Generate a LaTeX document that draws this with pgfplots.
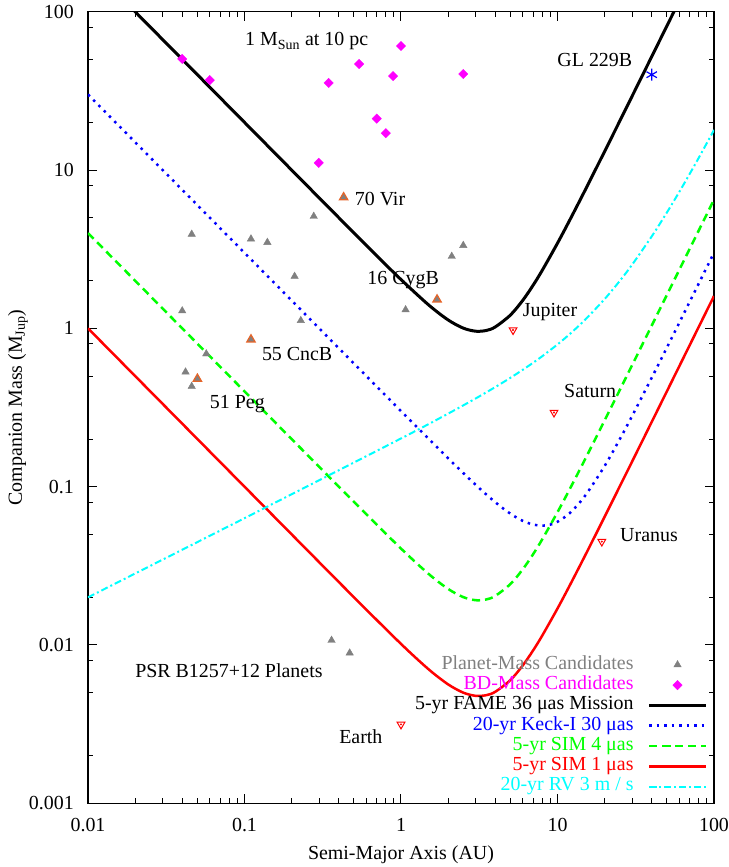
\documentclass[border=0pt]{standalone}
\usepackage{pgfplots}
\pgfplotsset{compat=1.18}
\usepackage{fontspec}
\setmainfont{Liberation Serif}
\definecolor{ptgray}{RGB}{128,128,128}
\definecolor{orng}{RGB}{230,100,40}
\definecolor{cyn}{RGB}{0,255,255}
\definecolor{grn}{RGB}{0,255,0}
\definecolor{blu}{RGB}{0,0,255}
\definecolor{rd}{RGB}{255,0,0}
\definecolor{mag}{RGB}{255,0,255}
\pgfplotsset{mylegend/.style={legend image code/.code={\draw[mark repeat=2,mark phase=2,##1] plot coordinates {(0bp,0bp) (28.5bp,0bp) (57bp,0bp)};}}}
\begin{document}
\begin{tikzpicture}[font=\fontsize{20}{24}\selectfont]
\useasboundingbox (-88bp,-63.7bp) rectangle (641bp,803.3bp);
\begin{axis}[
  scale only axis, width=626bp, height=791.6bp,
  at={(0,0)}, anchor=south west,
  xmode=log, ymode=log,
  xmin=0.01, xmax=100, ymin=0.001, ymax=100,
  xtick={0.01,0.1,1,10,100}, xticklabels={0.01,0.1,1,10,100},
  ytick={0.001,0.01,0.1,1,10,100}, yticklabels={0.001,0.01,0.1,1,10,100},
  minor xtick={0.02,0.03,0.04,0.05,0.06,0.07,0.08,0.09,0.2,0.3,0.4,0.5,0.6,0.7,0.8,0.9,2,3,4,5,6,7,8,9,20,30,40,50,60,70,80,90},
  minor ytick={0.002,0.005,0.008,0.02,0.05,0.08,0.2,0.5,0.8,2,5,8,20,50,80},
  tick align=inside, tick pos=both,
  major tick length=9bp, minor tick length=5bp,
  every tick/.style={black, line width=1bp},
  axis line style={line width=1.5bp},
  xticklabel style={anchor=center, yshift=-22bp, inner sep=0pt},
  yticklabel style={anchor=east, xshift=-14bp, inner sep=0pt},
  xlabel={Semi-Major Axis (AU)},
  ylabel={Companion Mass (M\textsubscript{Jup})},
  xlabel style={at={(axis description cs:0.5,-0.0653)}, anchor=center},
  ylabel style={at={(axis description cs:-0.1118,0.5)}, anchor=center},
  legend plot pos=right,
  legend cell align=right,
  legend style={at={(rel axis cs:0.99,0.008)}, anchor=south east, draw=none, fill=none, inner sep=0pt, row sep=0pt, column sep=14bp,
    nodes={inner sep=0pt, text height=14.5bp, text depth=5.8bp}},
  every axis plot/.append style={mylegend},
]
% Planet-mass candidates
\addplot[only marks, mark=triangle*, mark size=4.3bp, color=ptgray, mylegend] coordinates {
(0.046,3.93) (0.11,3.67) (0.14,3.49) (0.277,5.1) (0.209,2.13) (0.040,1.29)
(0.229,1.12) (0.057,0.69) (0.042,0.53) (0.046,0.43) (1.07,1.31) (2.11,2.85)
(2.50,3.34) (0.36,0.0107) (0.47,0.0089)};
\addlegendentry{\textcolor{ptgray}{Planet-Mass Candidates}}
% BD-mass candidates
\addplot[only marks, mark=square*, mark size=3.3bp, mark options={rotate=45}, color=mag, mylegend] coordinates {
(0.040,50.3) (0.060,37) (0.345,35.5) (0.54,46.7) (1.0,60.7) (0.89,39.2)
(0.70,21.1) (0.80,17.1) (0.298,11.1) (2.50,40.4)};
\addlegendentry{\textcolor{mag}{BD-Mass Candidates}}
% FAME
\addplot[black, line width=3bp, smooth] coordinates {
(0.019,105.26) (0.02,100) (0.03,66.67) (0.05,40.0) (0.1,20.0) (0.2,10.0) (0.3,6.670)
(0.5,4.008) (0.7,2.873) (1,2.0325) (1.5,1.407) (2,1.13) (2.5,1.003) (3,0.959)
(3.5,0.969) (4,1.02) (5,1.2125) (6,1.503) (7,1.878) (8,2.33) (10,3.45) (12,4.847)
(15,7.446) (20,13.1) (25,20.39) (30,29.32) (40,52.05) (50,81.29) (55,98.35) (60,117.03)};
\addlegendentry{5-yr FAME 36 μas Mission}
% Keck
\addplot[blu, line width=2.5bp, dash pattern=on 2.5bp off 5bp, smooth] coordinates {
(0.01,30) (0.02,15) (0.05,6) (0.1,3) (0.2,1.5) (0.5,0.6) (1,0.3003) (2,0.1512)
(3,0.1027) (4,0.0798) (5,0.0675) (6,0.0608) (7,0.0576) (8,0.0567) (9,0.0576)
(10,0.06) (12,0.0682) (15,0.0875) (20,0.135) (25,0.1995) (30,0.28) (40,0.4875)
(50,0.756) (60,1.085) (70,1.474) (80,1.924) (100,3.003)};
\addlegendentry{\textcolor{blu}{20-yr Keck-I 30 μas}}
% SIM 4
\addplot[grn, line width=2.5bp, dash pattern=on 8bp off 5bp, smooth] coordinates {
(0.01,4) (0.02,2) (0.05,0.8) (0.1,0.4) (0.2,0.2) (0.5,0.0802) (1,0.04065)
(1.5,0.02813) (2,0.0226) (2.5,0.02006) (3,0.01918) (3.5,0.01939) (4,0.0204)
(5,0.02425) (6,0.03007) (7,0.03756) (8,0.0466) (10,0.069) (12,0.0969) (15,0.1489)
(20,0.262) (30,0.5863) (40,1.041) (50,1.6258) (70,3.1856) (100,6.5004)};
\addlegendentry{\textcolor{grn}{5-yr SIM 4 μas}}
% SIM 1
\addplot[rd, line width=2.5bp, smooth] coordinates {
(0.01,1) (0.02,0.5) (0.05,0.2) (0.1,0.1) (0.2,0.05) (0.5,0.02004) (1,0.01016)
(1.5,0.007027) (2,0.00564) (2.5,0.005) (3,0.004773) (3.5,0.004817) (4,0.00506)
(5,0.006) (6,0.007427) (7,0.009269) (8,0.01149) (10,0.017) (12,0.02387)
(15,0.03667) (20,0.0645) (30,0.1443) (40,0.2563) (50,0.4002) (70,0.7841) (100,1.6001)};
\addlegendentry{\textcolor{rd}{5-yr SIM 1 μas}}
% RV
\addplot[cyn, line width=2bp, dash pattern=on 7bp off 3bp on 2bp off 3bp, smooth] coordinates {
(0.01,0.02) (0.1,0.0632) (1,0.2016) (2,0.2892) (3,0.3607) (4,0.4254) (5,0.4870)
(6,0.5472) (7,0.6071) (8,0.6675) (10,0.7916) (12,0.9218) (15,1.1325) (20,1.5306)
(25,1.994) (30,2.5267) (40,3.8096) (50,5.3903) (60,7.2738) (70,9.4664) (80,11.967) (100,17.904)};
\addlegendentry{\textcolor{cyn}{20-yr RV 3 m / s}}
% labelled planets
\addplot[forget plot, only marks, mark=triangle*, mark size=4.8bp, mark options={fill=ptgray, draw=orng, line width=1.2bp}] coordinates {
(0.43,6.72) (0.11,0.85) (0.050,0.48) (1.70,1.52)};
% GL 229B
\addplot[forget plot, only marks, mark=asterisk, mark size=6bp, mark options={blu, line width=1.2bp}] coordinates {(40,40)};
% Solar system
\addplot[forget plot, only marks, mark=triangle, mark size=4.5bp, mark options={rd, rotate=180, line width=1bp}] coordinates {
(1.0,0.00315) (5.2,0.976) (9.5,0.294) (19.2,0.045)};
\addplot[forget plot, only marks, mark=*, mark size=0.8bp, mark options={rd}] coordinates {
(1.0,0.00315) (5.2,0.976) (9.5,0.294) (19.2,0.045)};
% annotations
\node[anchor=base west, inner sep=0pt] at (axis cs:0.1007,60.8) {1 M\textsubscript{Sun} at 10 pc};
\node[anchor=base west, inner sep=0pt] at (axis cs:9.97,44.9) {GL 229B};
\node[anchor=base west, inner sep=0pt] at (axis cs:0.506,6.01) {70 Vir};
\node[anchor=base west, inner sep=0pt] at (axis cs:0.609,1.905) {16 CygB};
\node[anchor=base west, inner sep=0pt] at (axis cs:0.129,0.630) {55 CncB};
\node[anchor=base west, inner sep=0pt] at (axis cs:0.060,0.312) {51 Peg};
\node[anchor=base west, inner sep=0pt] at (axis cs:6.0,1.184) {Jupiter};
\node[anchor=base west, inner sep=0pt] at (axis cs:11.0,0.366) {Saturn};
\node[anchor=base west, inner sep=0pt] at (axis cs:25.1,0.0449) {Uranus};
\node[anchor=base west, inner sep=0pt] at (axis cs:0.402,0.00237) {Earth};
\node[anchor=base west, inner sep=0pt] at (axis cs:0.0200,0.00627) {PSR B1257+12 Planets};
\end{axis}
\end{tikzpicture}
\end{document}
